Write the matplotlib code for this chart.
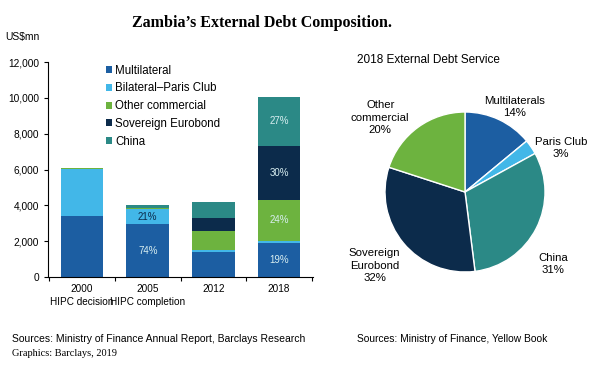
import numpy as np
import matplotlib
matplotlib.use("Agg")
import matplotlib.pyplot as plt
from matplotlib.ticker import FuncFormatter, FixedLocator

# data (US$mn)
years = ["2000", "2005", "2012", "2018"]
notes = ["HIPC decision", "HIPC completion", "", ""]
series = ["Multilateral", "Bilateral\u2013Paris Club", "Other commercial",
          "Sovereign Eurobond", "China"]
multilateral = [3400, 2950, 1380, 1920]
paris_club = [2650, 840, 150, 80]
other_comm = [50, 80, 1030, 2330]
eurobond = [0, 0, 740, 3000]
china = [0, 130, 900, 2740]

# in-bar labels: (year index, series index, text)
bar_labels = [(1, 0, "74%"), (1, 1, "21%"), (3, 0, "19%"), (3, 2, "24%"),
              (3, 3, "30%"), (3, 4, "27%")]

pie_names = ["Multilaterals", "Paris Club", "China", "Sovereign\nEurobond",
             "Other\ncommercial"]
pie_vals = [14, 3, 31, 32, 20]

colors = ["#1c5ea2", "#42b7e8", "#6db33f", "#0c2b4b", "#2b8986"]
pie_colors = [colors[0], colors[1], colors[4], colors[3], colors[2]]

plt.rcParams["font.family"] = ["Liberation Sans", "DejaVu Sans"]

fig = plt.figure(figsize=(6, 3.7), dpi=100)

fig.text(0.437, 0.938, "Zambia\u2019s External Debt Composition.",
         family="Liberation Serif", weight="bold", fontsize=11.5,
         ha="center", va="center")

# ---- bar chart ----
ax = fig.add_axes([0.08, 0.251, 0.442, 0.581])
x = np.arange(len(years))
stack = [multilateral, paris_club, other_comm, eurobond, china]
bottom = np.zeros(len(years))
for vals, c, name in zip(stack, colors, series):
    ax.bar(x, vals, 0.65, bottom=bottom, color=c, label=name, lw=0)
    bottom += np.array(vals)

for i, s, txt in bar_labels:
    base = sum(stack[k][i] for k in range(s))
    tc = "#0c2b4b" if s == 1 else "#d8eef0"
    ax.text(x[i], base + stack[s][i] / 2, txt, ha="center", va="center",
            fontsize=7, color=tc)

ax.set_xlim(-0.52, 3.52)
ax.set_ylim(0, 12000)
ax.set_yticks(np.arange(0, 12001, 2000))
ax.yaxis.set_major_formatter(FuncFormatter(lambda v, p: f"{int(v):,}"))
ax.set_xticks(x)
ax.set_xticklabels([f"{y}\n{n}" if n else y for y, n in zip(years, notes)],
                   fontsize=7.2)
ax.xaxis.set_minor_locator(FixedLocator([-0.5, 0.5, 1.5, 2.5, 3.5]))
ax.tick_params(axis="x", which="major", length=0, pad=5)
ax.tick_params(axis="x", which="minor", length=3, width=0.8)
ax.tick_params(axis="y", length=3, width=0.8, labelsize=7.3)
for sp in ["top", "right"]:
    ax.spines[sp].set_visible(False)
ax.spines["left"].set_linewidth(0.8)
ax.spines["bottom"].set_linewidth(0.8)
for lab in ax.get_xticklabels():
    lab.set_linespacing(1.4)

ax.legend(loc="upper left", bbox_to_anchor=(0.2, 1.01), frameon=False,
          fontsize=8.3, handlelength=0.55, handleheight=0.55,
          handletextpad=0.3, labelspacing=0.5, borderaxespad=0)

fig.text(0.008, 0.9, "US$mn", fontsize=7.5, va="center")

# ---- pie ----
pax = fig.add_axes([385 / 600, 98 / 370, 160 / 600, 160 / 370])
pax.pie(pie_vals, colors=pie_colors, startangle=90, counterclock=False,
        wedgeprops=dict(edgecolor="white", linewidth=1.0))
pax.set_xlim(-1, 1)
pax.set_ylim(-1, 1)
pax.set_aspect("equal")

label_pos = [(0.62, 1.06), (1.2, 0.55), (1.1, -0.9), (-1.13, -0.92),
             (-1.06, 0.93)]
for name, v, (lx, ly) in zip(pie_names, pie_vals, label_pos):
    pax.text(lx, ly, f"{name}\n{v}%", ha="center", va="center",
             fontsize=8.2, linespacing=1.3, clip_on=False)

fig.text(357 / 600, 1 - 60 / 370, "2018 External Debt Service",
         fontsize=8.5, va="center")

# ---- sources ----
fig.text(12 / 600, 1 - 339 / 370,
         "Sources: Ministry of Finance Annual Report, Barclays Research",
         fontsize=7.5, va="center")
fig.text(12 / 600, 1 - 354 / 370, "Graphics: Barclays, 2019",
         family="Liberation Serif", fontsize=7.5, va="center")
fig.text(357 / 600, 1 - 339 / 370, "Sources: Ministry of Finance, Yellow Book",
         fontsize=7.4, va="center")

fig.savefig("out.png", dpi=100)
